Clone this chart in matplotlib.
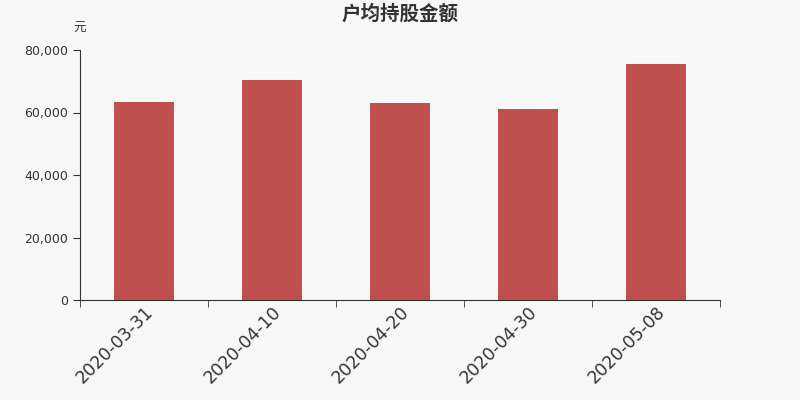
import matplotlib
matplotlib.use("Agg")
import matplotlib.pyplot as plt
from matplotlib.ticker import FuncFormatter, FixedLocator
import numpy as np

plt.rcParams['font.family'] = ['DejaVu Sans', 'Noto Sans CJK SC']

categories = ["2020-03-31", "2020-04-10", "2020-04-20", "2020-04-30", "2020-05-08"]
values = [63400, 70500, 62900, 61100, 75600]
yticks = [0, 20000, 40000, 60000, 80000]

bg = "#f8f8f8"
fig = plt.figure(figsize=(8, 4), dpi=100, facecolor=bg)
ax = fig.add_axes([0.1, 0.25, 0.8, 0.625])
ax.set_facecolor(bg)

x = np.arange(len(categories))
ax.bar(x, values, width=0.47, color="#c0504f")
ax.set_xlim(-0.5, len(categories) - 0.5)
ax.set_ylim(0, 80000)
ax.set_yticks(yticks)
ax.yaxis.set_major_formatter(FuncFormatter(lambda v, p: f"{int(v):,}"))
ax.set_xticks(x)
ax.set_xticklabels(categories, rotation=45, ha="right", rotation_mode="anchor", fontsize=12.5, color="#333333")
ax.tick_params(axis="x", length=0, pad=2)
ax.xaxis.set_minor_locator(FixedLocator(np.arange(-0.5, len(categories), 1.0)))
ax.tick_params(axis="x", which="minor", length=5, color="#333333")
ax.tick_params(axis="y", length=5, color="#333333", labelsize=9, labelcolor="#333333")
for s in ["top", "right"]:
    ax.spines[s].set_visible(False)
for s in ["left", "bottom"]:
    ax.spines[s].set_color("#333333")

fig.text(0.5, 0.965, "户均持股金额", ha="center", va="center", fontsize=14, fontweight="bold", color="#333333",
         family=['Noto Sans CJK SC', 'DejaVu Sans'])
fig.text(0.1, 0.93, "元", ha="center", va="center", fontsize=9, color="#333333",
         family=['Noto Sans CJK SC', 'DejaVu Sans'])

fig.savefig("out.png", dpi=100, facecolor=bg)
